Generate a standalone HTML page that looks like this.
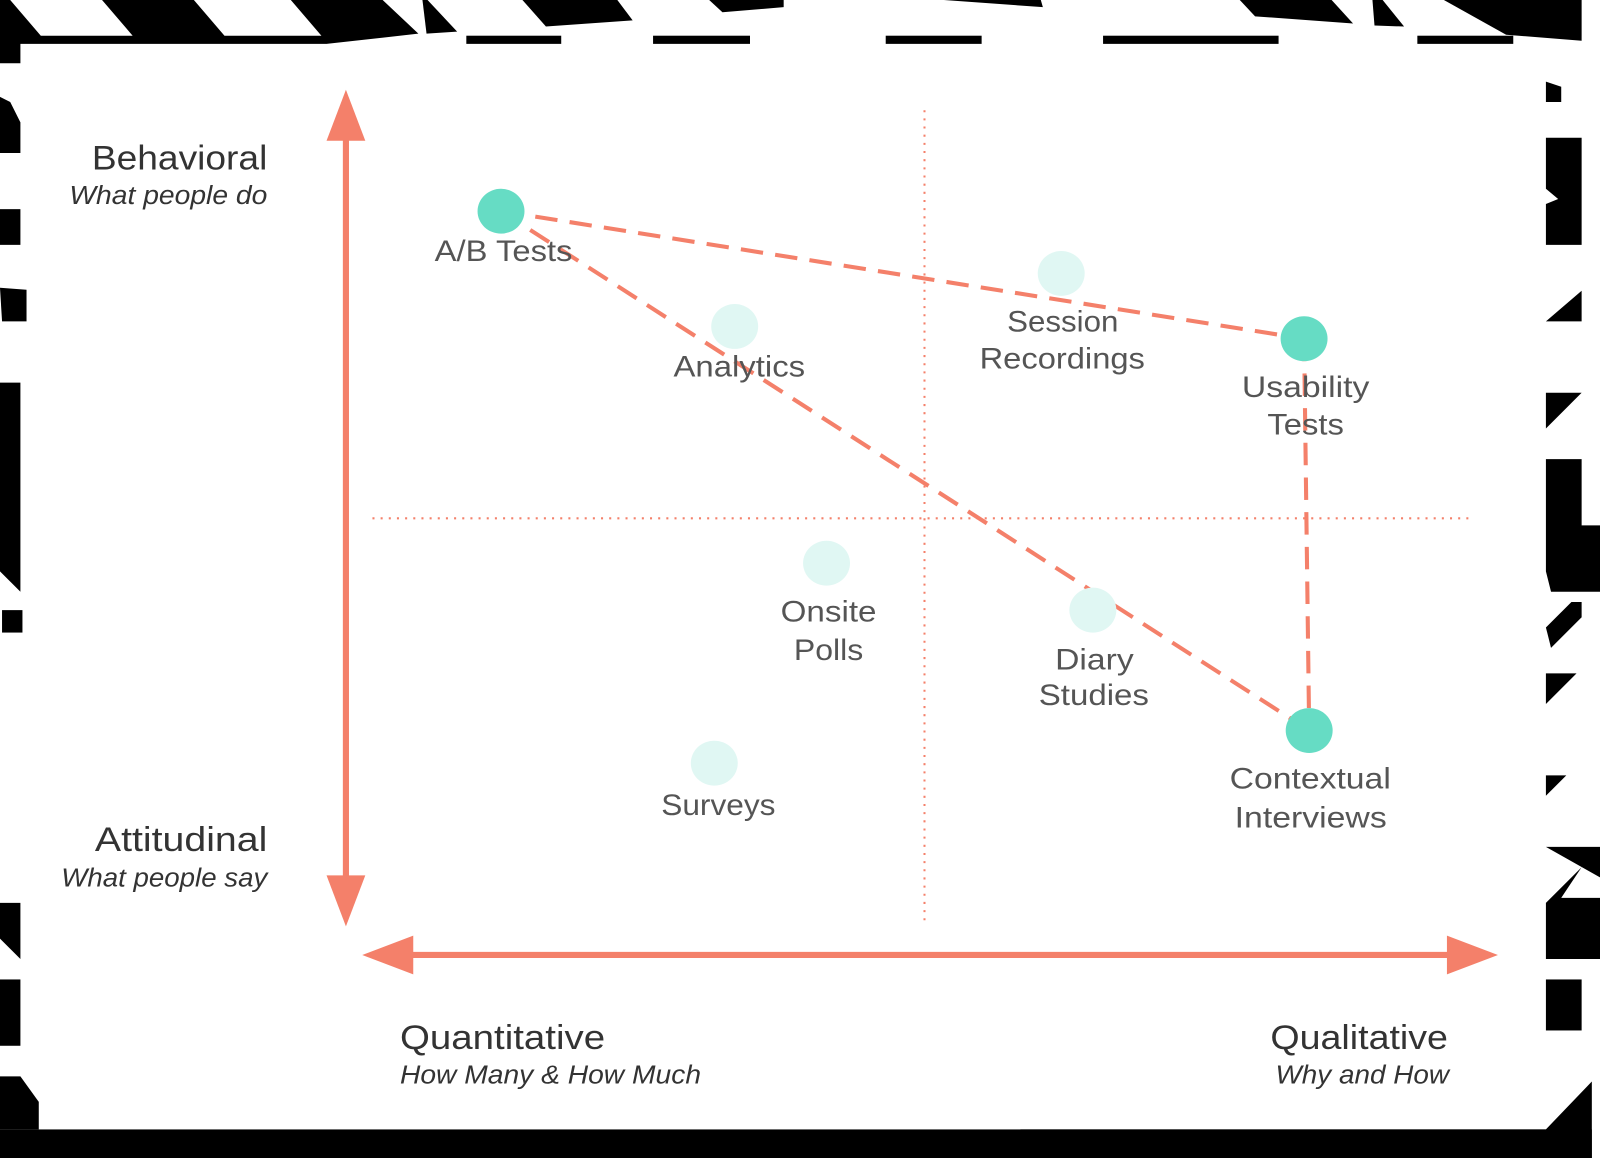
<!DOCTYPE html>
<html><head><meta charset="utf-8"><style>
html,body{margin:0;padding:0;background:#fff;}
svg{display:block}
text{font-family:"Liberation Sans",sans-serif;}
</style></head><body>
<svg width="1600" height="1158" viewBox="0 0 1568 1135" preserveAspectRatio="none" xmlns="http://www.w3.org/2000/svg">
<rect width="1568" height="1135" fill="#fff"/>
<!-- top band -->
<g fill="#000">
<polygon points="0,0 10,0 40,35 130,35 100,0 190,0 220,35 315,35 285,0 375,0 410,33 320,43 20,43 20,62 0,62"/>
<polygon points="414,0 419,0 448,31 418,33"/>
<polygon points="512,0 605,0 620,20 535,26"/>
<polygon points="695,0 768,0 768,7 708,12"/>
<polygon points="925,0 1020,0 1022,7"/>
<polygon points="1215,0 1305,0 1326,23 1230,16"/>
<polygon points="1345,0 1355,0 1376,26 1347,25"/>
<polygon points="1415,0 1550,0 1550,40 1476,34"/>
<rect x="457" y="35" width="93" height="8"/>
<rect x="640" y="35" width="95" height="8"/>
<rect x="868" y="35" width="94" height="8"/>
<rect x="1081" y="35" width="172" height="8"/>
<rect x="1389" y="35" width="94" height="8"/>
</g>
<!-- left pieces -->
<g fill="#000">
<polygon points="0,95 10,100 20,120 20,150 0,150"/>
<rect x="0" y="205" width="20" height="35"/>
<polygon points="0,282 26,284 26,315 2,315"/>
<polygon points="0,375 20,375 20,580 0,560"/>
<rect x="2" y="598" width="20" height="22"/>
<polygon points="0,885 20,885 20,940 0,920"/>
<rect x="0" y="960" width="20" height="65"/>
<polygon points="0,1055 20,1055 38,1080 38,1107 0,1107"/>
</g>
<!-- right pieces -->
<g fill="#000">
<polygon points="1515,80 1530,85 1530,100 1515,100"/>
<polygon points="1515,135 1550,135 1550,240 1515,240 1515,200 1527,195 1515,185"/>
<polygon points="1550,285 1550,315 1515,315"/>
<polygon points="1550,385 1515,420 1515,385"/>
<polygon points="1515,450 1550,450 1550,515 1568,515 1568,580 1520,580 1515,560"/>
<polygon points="1550,590 1550,605 1520,635 1515,615 1540,590"/>
<polygon points="1545,660 1515,690 1515,660"/>
<polygon points="1535,760 1515,780 1515,760"/>
<polygon points="1515,830 1568,830 1568,940 1515,940 1515,885 1550,850 1530,880 1568,880 1568,860"/>
<rect x="1515" y="960" width="35" height="50"/>
<polygon points="1560,1060 1560,1135 1000,1135 1000,1107 1515,1107"/>
<rect x="0" y="1107" width="1560" height="28"/>
</g>
<!-- dotted quadrant lines -->
<line x1="906" y1="108" x2="906" y2="905" stroke="#f4806a" stroke-width="2" stroke-dasharray="2 6"/>
<line x1="365" y1="508" x2="1445" y2="508" stroke="#f4806a" stroke-width="2" stroke-dasharray="2 6"/>
<!-- axes -->
<line x1="339" y1="130" x2="339" y2="862" stroke="#f4806a" stroke-width="6"/>
<polygon points="339,88 320,138 358,138" fill="#f4806a"/>
<polygon points="339,908 320,858 358,858" fill="#f4806a"/>
<line x1="400" y1="936" x2="1425" y2="936" stroke="#f4806a" stroke-width="6"/>
<polygon points="355,936 405,917 405,955" fill="#f4806a"/>
<polygon points="1468,936 1418,917 1418,955" fill="#f4806a"/>
<!-- dashed connectors -->
<g stroke="#f4806a" stroke-width="4" stroke-dasharray="22 12" fill="none">
<line x1="491" y1="207" x2="1278" y2="332"/>
<line x1="491" y1="207" x2="1283" y2="716"/>
<line x1="1278" y1="332" x2="1283" y2="716"/>
</g>
<!-- pale nodes -->
<g fill="#e0f7f3">
<ellipse cx="1040" cy="268" rx="23" ry="22"/>
<ellipse cx="720" cy="320" rx="23" ry="22"/>
<ellipse cx="810" cy="552" rx="23" ry="22"/>
<ellipse cx="1071" cy="598" rx="23" ry="22"/>
<ellipse cx="700" cy="748" rx="23" ry="22"/>
</g>
<g fill="#66dcc4">
<ellipse cx="491" cy="207" rx="23" ry="22"/>
<ellipse cx="1278" cy="332" rx="23" ry="22"/>
<ellipse cx="1283" cy="716" rx="23" ry="22"/>
</g>
<!-- labels -->
<g fill="#555" font-size="29" lengthAdjust="spacingAndGlyphs">
<text x="426" y="256" textLength="135" lengthAdjust="spacingAndGlyphs">A/B Tests</text>
<text x="660" y="369" textLength="129" lengthAdjust="spacingAndGlyphs">Analytics</text>
<text x="987" y="325" textLength="109" lengthAdjust="spacingAndGlyphs">Session</text>
<text x="960" y="361" textLength="162" lengthAdjust="spacingAndGlyphs">Recordings</text>
<text x="1217" y="389" textLength="125" lengthAdjust="spacingAndGlyphs">Usability</text>
<text x="1242" y="426" textLength="75" lengthAdjust="spacingAndGlyphs">Tests</text>
<text x="765" y="609" textLength="94" lengthAdjust="spacingAndGlyphs">Onsite</text>
<text x="778" y="647" textLength="68" lengthAdjust="spacingAndGlyphs">Polls</text>
<text x="1034" y="656" textLength="77" lengthAdjust="spacingAndGlyphs">Diary</text>
<text x="1018" y="691" textLength="108" lengthAdjust="spacingAndGlyphs">Studies</text>
<text x="648" y="799" textLength="112" lengthAdjust="spacingAndGlyphs">Surveys</text>
<text x="1205" y="773" textLength="158" lengthAdjust="spacingAndGlyphs">Contextual</text>
<text x="1210" y="811" textLength="149" lengthAdjust="spacingAndGlyphs">Interviews</text>
</g>
<g fill="#333">
<text x="90" y="166" font-size="34" textLength="172" lengthAdjust="spacingAndGlyphs">Behavioral</text>
<text x="68" y="200" font-size="25" font-style="italic" textLength="194" lengthAdjust="spacingAndGlyphs">What people do</text>
<text x="93" y="834" font-size="34" textLength="169" lengthAdjust="spacingAndGlyphs">Attitudinal</text>
<text x="60" y="869" font-size="25" font-style="italic" textLength="202" lengthAdjust="spacingAndGlyphs">What people say</text>
<text x="392" y="1028" font-size="34" textLength="201" lengthAdjust="spacingAndGlyphs">Quantitative</text>
<text x="392" y="1062" font-size="25" font-style="italic" textLength="295" lengthAdjust="spacingAndGlyphs">How Many &amp; How Much</text>
<text x="1245" y="1028" font-size="34" textLength="174" lengthAdjust="spacingAndGlyphs">Qualitative</text>
<text x="1250" y="1062" font-size="25" font-style="italic" textLength="170" lengthAdjust="spacingAndGlyphs">Why and How</text>
</g>
</svg>
</body></html>
